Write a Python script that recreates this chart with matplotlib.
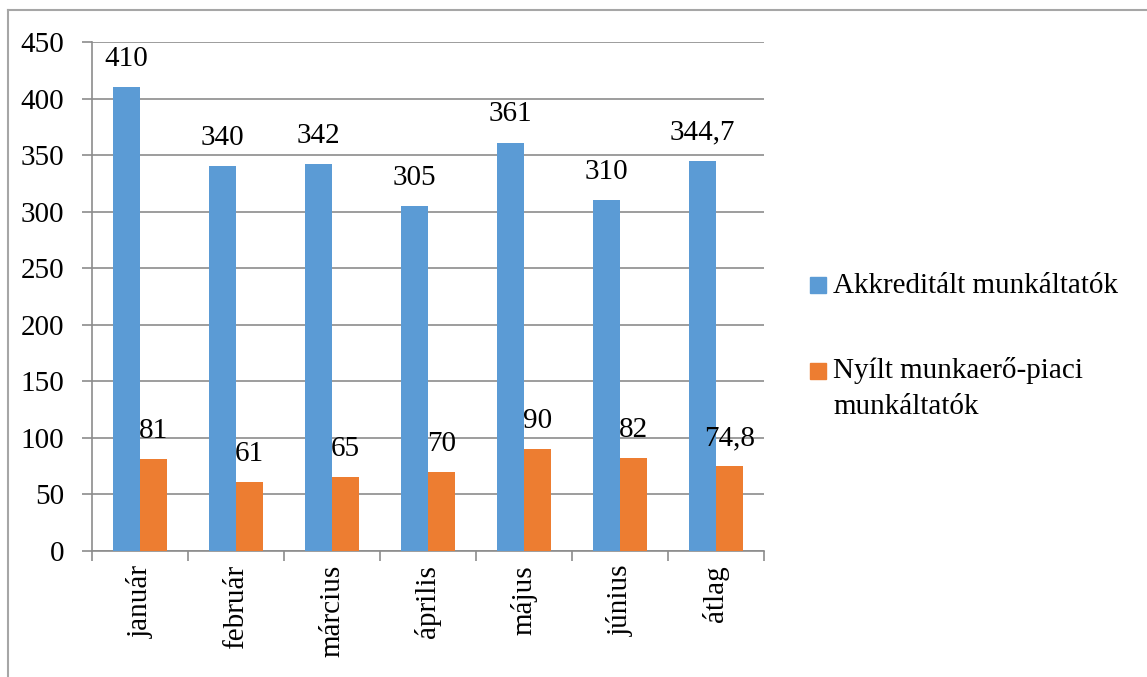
import matplotlib
matplotlib.use("Agg")
import matplotlib.pyplot as plt
from matplotlib.lines import Line2D
from matplotlib.patches import Rectangle
import numpy as np

categories = ["január", "február", "március", "április", "május", "június", "átlag"]
akkreditalt = [410, 340, 342, 305, 361, 310, 344.7]
nyilt = [81, 61, 65, 70, 90, 82, 74.8]
series_names = ["Akkreditált munkáltatók", "Nyílt munkaerő-piaci\nmunkáltatók"]
yticks = [0, 50, 100, 150, 200, 250, 300, 350, 400, 450]

BLUE = "#5B9BD5"
ORANGE = "#ED7D31"
GRID = "#8C8C8C"
FS = 21
plt.rcParams['font.family'] = ['Liberation Serif', 'DejaVu Serif']

W, H = 1147, 677
fig = plt.figure(figsize=(W / 100, H / 100), dpi=100)
ax = fig.add_axes([92 / W, 1 - 551 / H, (764 - 92) / W, (551 - 42) / H])

x = np.arange(len(categories))
bw = 0.286
b1 = ax.bar(x - bw / 2, akkreditalt, bw, color=BLUE, zorder=3)
b2 = ax.bar(x + bw / 2, nyilt, bw, color=ORANGE, zorder=3)

def fmt(v):
    s = f"{v:g}"
    return s.replace(".", ",")

for bars, vals in ((b1, akkreditalt), (b2, nyilt)):
    for r, v in zip(bars, vals):
        ax.annotate(fmt(v), (r.get_x() + r.get_width() / 2, v), xytext=(0, 11),
                    textcoords="offset points", ha="center", va="bottom",
                    fontsize=FS, zorder=4, clip_on=False)

ax.set_ylim(0, 450)
ax.set_xlim(-0.5, len(categories) - 0.5)
ax.set_yticks(yticks)
ax.set_yticklabels([str(t) for t in yticks], fontsize=FS)
ax.yaxis.grid(True, color=GRID, linewidth=1.2, zorder=0)
ax.set_xticks(np.arange(len(categories) + 1) - 0.5)
ax.set_xticklabels([])
ax.set_xticks(x, minor=True)
ax.set_xticklabels(categories, minor=True, rotation=90, fontsize=FS, va="top", ha="center")
ax.tick_params(axis="x", which="major", length=7, color=GRID, width=1.2)
ax.tick_params(axis="x", which="minor", length=0, pad=10)
ax.tick_params(axis="y", length=7, color=GRID, width=1.2, pad=13)
for side in ("top", "right"):
    ax.spines[side].set_visible(False)
for side in ("left", "bottom"):
    ax.spines[side].set_color(GRID)
    ax.spines[side].set_linewidth(1.2)

# legend (manual)
fig.patches.append(Rectangle((810 / W, 1 - 293 / H), 16 / W, 16 / H,
                             transform=fig.transFigure, color=BLUE))
fig.text(833 / W, 1 - 286 / H, series_names[0], fontsize=FS, va="center", ha="left")
fig.patches.append(Rectangle((810 / W, 1 - 379 / H), 16 / W, 16 / H,
                             transform=fig.transFigure, color=ORANGE))
fig.text(833 / W, 1 - 357 / H, series_names[1], fontsize=FS, va="top", ha="left",
         linespacing=1.5)

# outer frame (top and left)
fig.add_artist(Line2D([8 / W, 1], [1 - 10 / H, 1 - 10 / H], transform=fig.transFigure,
                      color="#A6A6A6", linewidth=1.5))
fig.add_artist(Line2D([8 / W, 8 / W], [0, 1 - 10 / H], transform=fig.transFigure,
                      color="#A6A6A6", linewidth=1.5))

fig.savefig("out.png", dpi=100)
